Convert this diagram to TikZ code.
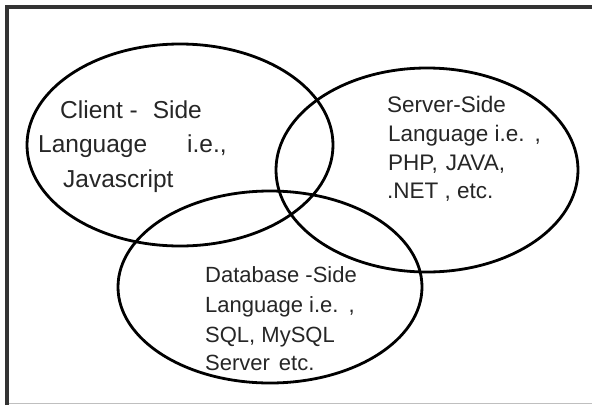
\documentclass[tikz,border=0pt]{standalone}
\usepackage{fontspec}
\setmainfont{Liberation Sans}
\definecolor{framegray}{HTML}{333333}
\definecolor{textgray}{HTML}{262626}
\begin{document}
\begin{tikzpicture}[x=1pt,y=-1pt,
  venn/.style={draw=black,line width=2.8pt},
  lbl/.style={anchor=base west,inner sep=0pt,text=textgray},
  clientfont/.style={font=\fontsize{24.5}{29}\selectfont},
  serverfont/.style={font=\fontsize{22.5}{27}\selectfont},
  dbfont/.style={font=\fontsize{22}{27}\selectfont}]
\useasboundingbox (0,0) rectangle (592,405);
\fill[white] (0,0) rectangle (592,405);
% frame
\draw[framegray,line width=3.5pt] (7,405) -- (7,7) -- (592,7);
\draw[gray!50,line width=1.2pt] (9,403.5) -- (592,403.5);
% ellipses
\draw[venn] (180,145) ellipse [x radius=153pt, y radius=101pt];
\draw[venn] (427,170) ellipse [x radius=151pt, y radius=102pt];
\draw[venn] (270,287) ellipse [x radius=152pt, y radius=96pt];
% client text
\node[lbl,clientfont] (c1) at (60,118) {Client -\hspace{15pt}Side};
\node[lbl,clientfont] (c2) at (38,152) {Language\hspace{40pt}i.e.,};
\node[lbl,clientfont] (c3) at (63,187) {Javascript};
% server text
\node[lbl,serverfont] (s1) at (387,112) {Server-Side};
\node[lbl,serverfont] (s2) at (388,141) {Language i.e.\hspace{10pt},};
\node[lbl,serverfont] (s3) at (388,170) {PHP,\hspace{8pt}JAVA,};
\node[lbl,serverfont] (s4) at (387,198) {.NET , etc.};
% database text
\node[lbl,dbfont] (d1) at (205,282) {Database -Side};
\node[lbl,dbfont] (d2) at (205,312) {Language i.e.\hspace{10pt},};
\node[lbl,dbfont] (d3) at (205,342) {SQL, MySQL};
\node[lbl,dbfont] (d4) at (205,370) {Server\hspace{9pt}etc.};
\end{tikzpicture}
\end{document}
